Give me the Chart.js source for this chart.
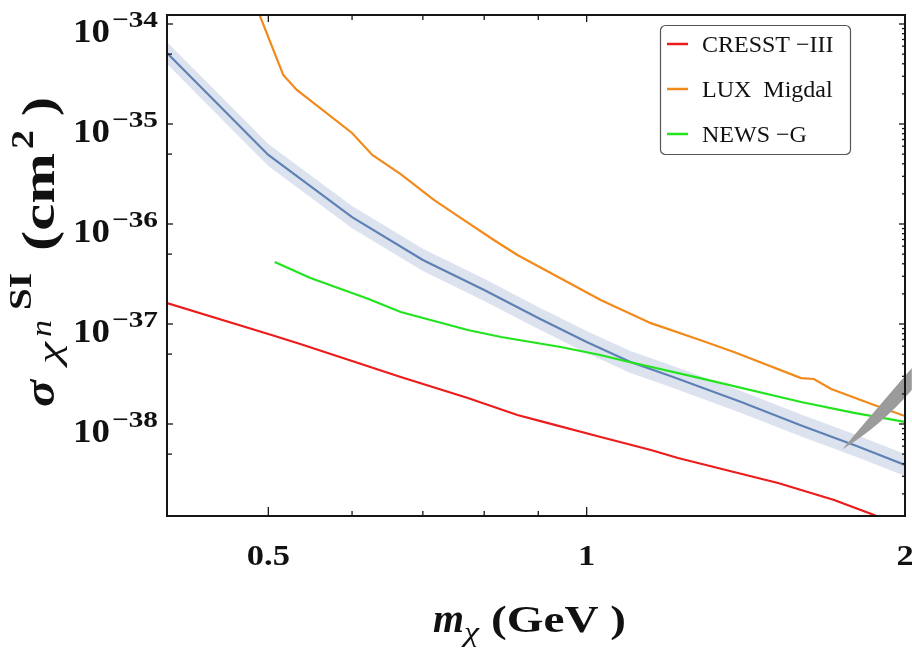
<!DOCTYPE html>
<html><head><meta charset="utf-8">
<script src="https://cdn.jsdelivr.net/npm/chart.js@4.4.1/dist/chart.umd.min.js"></script>
<style>html,body{margin:0;padding:0;background:#fff;}#wrap{width:912px;height:653px;}</style>
</head><body><div id="wrap"><canvas id="c" width="912" height="653"></canvas></div>
<script>
// ---- data ----
const massBand     = [0.401, 0.5, 0.6, 0.7, 0.8, 0.9, 1.0, 1.1, 1.2, 1.4, 1.6, 1.8, 2.0];
const sigmaCentral = [5.13e-35, 4.90e-36, 1.17e-36, 4.37e-37, 2.19e-37, 1.15e-37, 6.61e-38, 4.17e-38, 3.02e-38, 1.66e-38, 9.55e-39, 6.03e-39, 3.89e-39];
const sigmaUpper   = [6.62e-35, 6.32e-36, 1.51e-36, 5.64e-37, 2.83e-37, 1.48e-37, 8.53e-38, 5.38e-38, 3.90e-38, 2.14e-38, 1.23e-38, 7.78e-39, 5.02e-39];
const sigmaLower   = [3.98e-35, 3.80e-36, 9.07e-37, 3.39e-37, 1.70e-37, 8.91e-38, 5.12e-38, 3.23e-38, 2.34e-38, 1.29e-38, 7.40e-39, 4.67e-39, 3.02e-39];

const massCRESST  = [0.401, 0.5, 0.536, 0.6, 0.667, 0.772, 0.86, 0.91, 1.031, 1.15, 1.22, 1.378, 1.517, 1.714, 1.87, 1.95];
const sigmaCRESST = [1.62e-37, 7.94e-38, 6.31e-38, 4.27e-38, 2.95e-38, 1.82e-38, 1.23e-38, 1.05e-38, 7.41e-39, 5.50e-39, 4.57e-39, 3.31e-39, 2.57e-39, 1.74e-39, 1.23e-39, 1.00e-39];

const massLUX  = [0.486, 0.5165, 0.532, 0.600, 0.627, 0.667, 0.717, 0.760, 0.817, 0.860, 1.031, 1.15, 1.28, 1.378, 1.595, 1.64, 1.703, 1.87, 2.0];
const sigmaLUX = [1.58e-34, 3.09e-35, 2.19e-35, 8.13e-36, 4.90e-36, 3.16e-36, 1.74e-36, 1.15e-36, 6.92e-37, 4.90e-37, 1.74e-37, 1.02e-37, 6.92e-38, 5.25e-38, 2.88e-38, 2.82e-38, 2.24e-38, 1.55e-38, 1.20e-38];

const massNEWS  = [0.507, 0.548, 0.622, 0.667, 0.772, 0.830, 0.945, 1.030, 1.077, 1.28, 1.595, 1.79, 2.0];
const sigmaNEWS = [4.17e-37, 2.88e-37, 1.78e-37, 1.32e-37, 8.71e-38, 7.41e-38, 5.89e-38, 4.90e-38, 4.37e-38, 2.88e-38, 1.66e-38, 1.29e-38, 1.05e-38];

const seriesNames = ['CRESST \u2212III', 'LUX  Migdal', 'NEWS \u2212G'];

const xTickValues = [0.5, 1, 2];
const xTickLabels = ['0.5', '1', '2'];
const xMinorTicks = [0.6, 0.7, 0.8, 0.9];
const yTickValues = [1e-34, 1e-35, 1e-36, 1e-37, 1e-38];
const yTickExps   = ['\u221234', '\u221235', '\u221236', '\u221237', '\u221238'];
const yMinorLeft  = [5e-35, 5e-36, 5e-37, 5e-38, 5e-39];

// pointer wedge (annotation) in data coordinates: tip, upper end, lower end
const wedgeX = [1.745, 2.03, 2.03];
const wedgeY = [5.6e-39, 3.63e-38, 2.19e-38];

const X_MIN = 0.401, X_MAX = 2.0;
const Y_MIN = Math.pow(10, -38.92), Y_MAX = Math.pow(10, -33.91);

// ---- styles ----
const RED = '#ec1c1c', ORANGE = '#f28a1b', GREEN = '#22e41e', BLUE = '#5e81b5', BAND = 'rgba(94,129,181,0.22)';
const SERIF = '"Liberation Serif", "DejaVu Serif", serif';

const zip = (xs, ys) => xs.map((x, i) => ({x, y: ys[i]}));

// draw text stretched horizontally to a given width (emulates the wide TeX-like font)
function wideText(ctx, text, x, y, W) {
  const nat = ctx.measureText(text).width;
  const sx = W ? W / nat : 1;
  ctx.save();
  ctx.translate(x, y);
  ctx.scale(sx, 1);
  ctx.fillText(text, 0, 0);
  ctx.restore();
  return W || nat;
}

const decor = {
  id: 'decor',
  afterDatasetsDraw(chart) {
    const ctx = chart.ctx, xs = chart.scales.x, ys = chart.scales.y;
    const p = wedgeX.map((x, i) => [xs.getPixelForValue(x), ys.getPixelForValue(wedgeY[i])]);
    ctx.save();
    ctx.fillStyle = '#9b9b9b';
    ctx.beginPath();
    ctx.moveTo(p[0][0], p[0][1]);
    ctx.quadraticCurveTo((p[0][0] + p[1][0]) / 2 - 2, (p[0][1] + p[1][1]) / 2 + 2, p[1][0], p[1][1]);
    ctx.lineTo(p[2][0], p[2][1]);
    ctx.quadraticCurveTo((p[0][0] + p[2][0]) / 2 + 3, (p[0][1] + p[2][1]) / 2 + 7, p[0][0], p[0][1]);
    ctx.closePath();
    ctx.fill();
    ctx.restore();
  },
  afterDraw(chart) {
    const ctx = chart.ctx, a = chart.chartArea, xs = chart.scales.x, ys = chart.scales.y;
    ctx.save();
    ctx.strokeStyle = '#151515';
    ctx.lineWidth = 2;
    ctx.strokeRect(a.left, a.top, a.right - a.left, a.bottom - a.top);
    ctx.lineWidth = 1.3;
    const tick = (x1, y1, x2, y2) => { ctx.beginPath(); ctx.moveTo(x1, y1); ctx.lineTo(x2, y2); ctx.stroke(); };
    yTickValues.forEach(v => { const y = ys.getPixelForValue(v); tick(a.left, y, a.left + 6, y); });
    yMinorLeft.forEach(v => { const y = ys.getPixelForValue(v); tick(a.left, y, a.left + 5, y); });
    for (let e = -39; e <= -34; e++) {
      for (let m = 1; m <= 9; m++) {
        const v = m * Math.pow(10, e);
        if (v < Y_MIN || v > Y_MAX) continue;
        const y = ys.getPixelForValue(v);
        tick(a.right, y, a.right - (m === 1 ? 6 : 3), y);
      }
    }
    xTickValues.forEach(v => { const x = xs.getPixelForValue(v); tick(x, a.bottom, x, a.bottom - 9); tick(x, a.top, x, a.top + 7); });
    xMinorTicks.forEach(v => { const x = xs.getPixelForValue(v); tick(x, a.bottom, x, a.bottom - 5); tick(x, a.top, x, a.top + 5); });

    // x tick labels
    ctx.fillStyle = '#111';
    ctx.textBaseline = 'alphabetic';
    ctx.textAlign = 'left';
    ctx.font = 'bold 30px ' + SERIF;
    xTickValues.forEach((v, i) => {
      const nat = ctx.measureText(xTickLabels[i]).width;
      const W = nat * 1.15;
      wideText(ctx, xTickLabels[i], xs.getPixelForValue(v) - W / 2, 565, W);
    });

    // y tick labels 10^exp
    yTickValues.forEach((v, i) => {
      const y = ys.getPixelForValue(v);
      ctx.font = 'bold 34px ' + SERIF;
      wideText(ctx, '10', 73, y + 18, 37);
      ctx.font = 'bold 23px ' + SERIF;
      wideText(ctx, yTickExps[i], 112, y + 3, 46);
    });

    // rich title: segments placed along the text direction from a start offset
    const drawRich = (segs, ox, oy, rot) => {
      ctx.save();
      ctx.translate(ox, oy);
      if (rot) ctx.rotate(-Math.PI / 2);
      ctx.textAlign = 'left';
      let x = 0;
      segs.forEach(s => {
        x += s.pre || 0;
        ctx.font = s.f;
        x += wideText(ctx, s.t, x, s.dy || 0, s.w);
      });
      ctx.restore();
    };
    drawRich([
      {t: 'm', f: 'italic bold 40px ' + SERIF, w: 31},
      {t: '\u03c7', f: 'italic 27px ' + SERIF, dy: 9, w: 15},
      {t: '(GeV )', f: 'bold 38px ' + SERIF, pre: 12, w: 135}
    ], 433, 632, false);
    drawRich([
      {t: '\u03c3', f: 'italic bold 44px ' + SERIF, w: 27},
      {t: '\u03c7', f: 'italic 32px ' + SERIF, pre: 16, dy: 6, w: 22},
      {t: 'n', f: 'italic 30px ' + SERIF, pre: 5, dy: -3, w: 17},
      {t: 'SI', f: 'bold 31px ' + SERIF, pre: 10, dy: -23, w: 37},
      {t: '(cm', f: 'bold 46px ' + SERIF, pre: 22, w: 98},
      {t: '2', f: 'bold 31px ' + SERIF, pre: 4, dy: -21, w: 19},
      {t: ')', f: 'bold 46px ' + SERIF, pre: 14, w: 19}
    ], 54, 407, true);

    // legend
    const lx = 660, ly = 25, lw = 190, lh = 129;
    ctx.fillStyle = '#fff';
    ctx.strokeStyle = '#555';
    ctx.lineWidth = 1.2;
    ctx.beginPath();
    ctx.roundRect(lx + 0.5, ly + 0.5, lw, lh, 5);
    ctx.fill();
    ctx.stroke();
    const cols = [RED, ORANGE, GREEN];
    const rowsY = [44, 89, 134];
    ctx.font = '24px ' + SERIF;
    ctx.textBaseline = 'middle';
    seriesNames.forEach((n, i) => {
      ctx.strokeStyle = cols[i];
      ctx.lineWidth = 2.5;
      tick(667, rowsY[i], 688, rowsY[i]);
      ctx.fillStyle = '#111';
      ctx.fillText(n, 702, rowsY[i] + 2);
    });
    ctx.restore();
  }
};

new Chart(document.getElementById('c'), {
  type: 'line',
  data: {
    datasets: [
      {label: 'band upper', data: zip(massBand, sigmaUpper), borderWidth: 0, pointRadius: 0, fill: '+1', backgroundColor: BAND, order: 10},
      {label: 'band lower', data: zip(massBand, sigmaLower), borderWidth: 0, pointRadius: 0, fill: false, order: 9},
      {label: 'central', data: zip(massBand, sigmaCentral), borderColor: BLUE, borderWidth: 2.2, pointRadius: 0, fill: false, order: 4},
      {label: seriesNames[0], data: zip(massCRESST, sigmaCRESST), borderColor: RED, borderWidth: 2.2, pointRadius: 0, fill: false, order: 1},
      {label: seriesNames[1], data: zip(massLUX, sigmaLUX), borderColor: ORANGE, borderWidth: 2.2, pointRadius: 0, fill: false, order: 2},
      {label: seriesNames[2], data: zip(massNEWS, sigmaNEWS), borderColor: GREEN, borderWidth: 2.2, pointRadius: 0, fill: false, order: 3}
    ]
  },
  options: {
    responsive: false,
    animation: false,
    devicePixelRatio: 1,
    layout: {padding: {left: 167, top: 15, right: 7, bottom: 137}},
    plugins: {legend: {display: false}, tooltip: {enabled: false}},
    elements: {line: {tension: 0}},
    scales: {
      x: {type: 'logarithmic', min: X_MIN, max: X_MAX, display: false},
      y: {type: 'logarithmic', min: Y_MIN, max: Y_MAX, display: false}
    }
  },
  plugins: [decor]
});
</script>
</body></html>
